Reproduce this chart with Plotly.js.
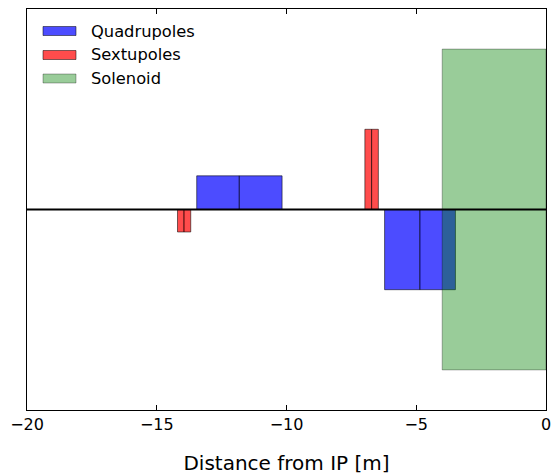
<!DOCTYPE html>
<html>
<head>
<meta charset="utf-8">
<script src="https://cdn.plot.ly/plotly-3.0.1.min.js"></script>
<style>
  html, body { margin: 0; padding: 0; background: #ffffff; }
  #chart { width: 551px; height: 475px; }
</style>
</head>
<body>
<div id="chart"></div>
<script>
// Magnet layout along the beamline, positions in metres from the IP.
// Each element: start, end and signed strength (arbitrary units).
const quadStart = [-13.46, -11.82, -6.22, -4.86];
const quadEnd   = [-11.82, -10.17, -4.86, -3.49];
const quadK     = [0.21, 0.21, -0.5, -0.5];

const sextStart = [-14.20, -13.95, -6.98, -6.72];
const sextEnd   = [-13.95, -13.69, -6.72, -6.46];
const sextK     = [-0.14, -0.14, 0.5, 0.5];

const solStart  = [-4.0];
const solEnd    = [0.0];
const solHalf   = [1.0];

const xTicks = [-20, -15, -10, -5, 0];
const legendNames = ["Quadrupoles", "Sextupoles", "Solenoid"];

const FONT = "DejaVu Sans, Verdana, sans-serif";

function centers(a, b) { return a.map((v, i) => (v + b[i]) / 2); }
function widths(a, b)  { return a.map((v, i) => b[i] - v); }

const fills = {
  quad: "rgba(0,0,255,0.7)",
  sext: "rgba(255,0,0,0.7)",
  sol:  "rgba(0,128,0,0.4)"
};
const edges = {
  quad: "rgba(0,0,0,0.55)",
  sext: "rgba(0,0,0,0.55)",
  sol:  "rgba(0,0,0,0.3)"
};

const traces = [
  {
    type: "bar", name: legendNames[0],
    x: centers(quadStart, quadEnd), width: widths(quadStart, quadEnd),
    y: quadK, base: quadK.map(() => 0),
    marker: { color: fills.quad, line: { color: edges.quad, width: 1 } },
    hoverinfo: "skip"
  },
  {
    type: "bar", name: legendNames[1],
    x: centers(sextStart, sextEnd), width: widths(sextStart, sextEnd),
    y: sextK, base: sextK.map(() => 0),
    marker: { color: fills.sext, line: { color: edges.sext, width: 1 } },
    hoverinfo: "skip"
  },
  {
    type: "bar", name: legendNames[2],
    x: centers(solStart, solEnd), width: widths(solStart, solEnd),
    y: solHalf.map(h => 2 * h), base: solHalf.map(h => -h),
    marker: { color: fills.sol, line: { color: edges.sol, width: 1 } },
    hoverinfo: "skip"
  }
];

// Legend drawn as patches + labels in the upper-left corner of the axes.
const M = { l: 27, r: 5, t: 9, b: 65 };
const plotW = 551 - M.l - M.r;
const plotH = 475 - M.t - M.b;
const px = v => (v - M.l) / plotW;
const py = v => (475 - M.b - v) / plotH;

const legendRows = [31, 55, 78.5];
const legendFill = [fills.quad, fills.sext, fills.sol];
const legendEdge = ["rgba(0,0,0,0.5)", "rgba(0,0,0,0.5)", "rgba(0,0,0,0.3)"];

const shapes = [
  {
    type: "line", xref: "paper", yref: "y", x0: 0, x1: 1, y0: 0, y1: 0,
    line: { color: "#000000", width: 2 }, layer: "above"
  }
];
const annotations = [];
legendRows.forEach((cy, i) => {
  shapes.push({
    type: "rect", xref: "paper", yref: "paper",
    x0: px(43), x1: px(76), y0: py(cy + 4.5), y1: py(cy - 4.5),
    fillcolor: legendFill[i], line: { color: legendEdge[i], width: 1 },
    layer: "above"
  });
  annotations.push({
    xref: "paper", yref: "paper", x: px(89), y: py(cy),
    xanchor: "left", yanchor: "middle", showarrow: false,
    text: legendNames[i], font: { family: FONT, size: 16.3, color: "#000000" }
  });
});

const layout = {
  width: 551, height: 475,
  margin: M,
  paper_bgcolor: "#ffffff", plot_bgcolor: "#ffffff",
  barmode: "overlay",
  bargap: 0,
  showlegend: false,
  font: { family: FONT, size: 16, color: "#000000" },
  xaxis: {
    range: [-20, 0], tickvals: xTicks, ticktext: xTicks.map(v => v < 0 ? "\u2212" + Math.abs(v) : String(v)),
    ticks: "inside", ticklen: 5, tickwidth: 1, tickcolor: "#000000",
    ticklabeloverflow: "allow",
    showline: true, linecolor: "#000000", linewidth: 1, mirror: "ticks",
    showgrid: false, zeroline: false,
    tickfont: { family: FONT, size: 16, color: "#000000" },
    title: { text: "Distance from IP [m]", standoff: 24, font: { family: FONT, size: 20, color: "#000000" } },
    automargin: false, fixedrange: true
  },
  yaxis: {
    range: [-1.25, 1.25],
    showticklabels: false, ticks: "",
    showline: true, linecolor: "#000000", linewidth: 1, mirror: true,
    showgrid: false, zeroline: false, fixedrange: true
  },
  shapes: shapes,
  annotations: annotations
};

Plotly.newPlot("chart", traces, layout, { displayModeBar: false, staticPlot: true });
</script>
</body>
</html>
